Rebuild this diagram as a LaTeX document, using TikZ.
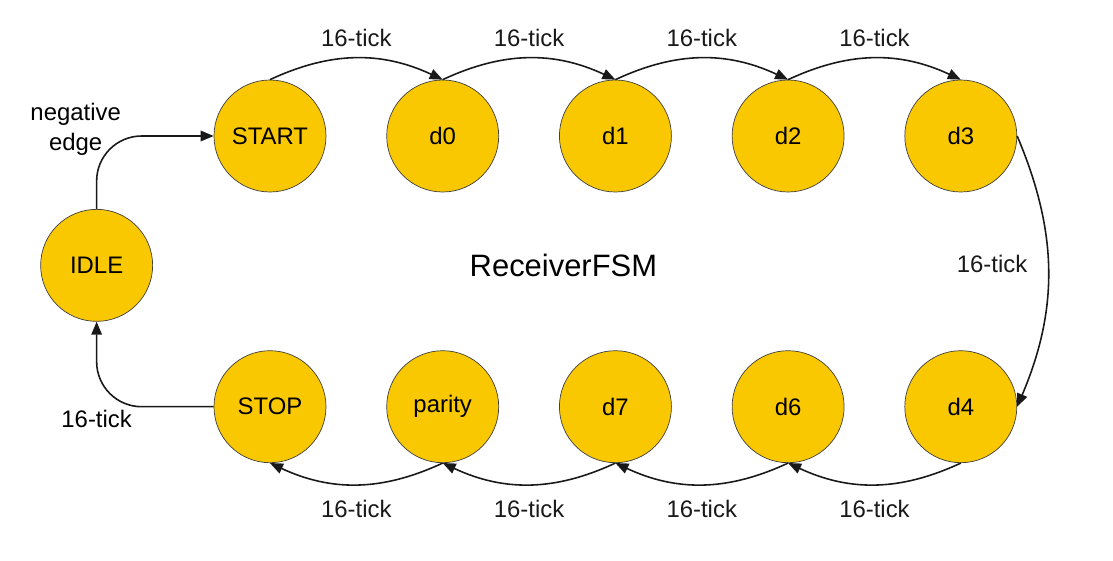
\documentclass[tikz,border=0pt]{standalone}
\usepackage{fontspec}
\setmainfont{Liberation Sans}
\usetikzlibrary{arrows.meta,positioning,calc}
\definecolor{stategold}{RGB}{249,200,0}

\begin{document}
\begin{tikzpicture}[
  node distance=1.2cm and 1.2cm,
  state/.style={draw=black!75,line width=0.4pt,circle,fill=stategold,minimum size=2.24cm,inner sep=0pt,font=\fontsize{13.6}{17}\selectfont},
  lbl/.style={font=\fontsize{13.6}{17}\selectfont,align=center},
  arr/.style={-{Triangle[length=2.6mm,width=2.1mm]},line width=0.9pt,black!90}
]
  \useasboundingbox (-5.4,2.72) rectangle (16.86,-8.48);
  \node[state] (start) {START};
  \node[state,right=of start] (d0) {d0};
  \node[state,right=of d0] (d1) {d1};
  \node[state,right=of d1] (d2) {d2};
  \node[state,right=of d2] (d3) {d3};
  \node[state,below=3.16cm of start] (stop) {STOP};
  \node[state,right=of stop] (par) {parity};
  \node[state,right=of par] (d7) {d7};
  \node[state,right=of d7] (d6) {d6};
  \node[state,right=of d6] (d4) {d4};
  \coordinate (mid) at ($(start)!0.5!(stop)+(0,0.12)$);
  \node[state,left=2.34cm of mid] (idle) {IDLE};
  \node[font=\fontsize{17.6}{20}\selectfont] (title) at ($(d1)!0.5!(d7)+(-1.04,0.12)$) {ReceiverFSM};
  \node[lbl] (neg) at ($(idle.north)+(-0.42,1.6)$) {negative\\edge};
  \node[lbl] (back) at ($(idle.south)+(0,-1.94)$) {16-tick};
  \draw[arr,rounded corners=0.9cm] (idle.north) |- (start.west);
  \draw[arr,rounded corners=0.9cm] (stop.west) -| (idle.south);
  \draw[arr] (start.north) to[bend left=25] node[lbl,above=3pt] {16-tick} (d0.north);
  \draw[arr] (d0.north) to[bend left=25] node[lbl,above=3pt] {16-tick} (d1.north);
  \draw[arr] (d1.north) to[bend left=25] node[lbl,above=3pt] {16-tick} (d2.north);
  \draw[arr] (d2.north) to[bend left=25] node[lbl,above=3pt] {16-tick} (d3.north);
  \draw[arr] (d3.east) to[bend left=23] node[lbl,left=8pt,pos=0.47] {16-tick} (d4.east);
  \draw[arr] (d4.south) to[bend left=25] node[lbl,below=5pt] {16-tick} (d6.south);
  \draw[arr] (d6.south) to[bend left=25] node[lbl,below=5pt] {16-tick} (d7.south);
  \draw[arr] (d7.south) to[bend left=25] node[lbl,below=5pt] {16-tick} (par.south);
  \draw[arr] (par.south) to[bend left=25] node[lbl,below=5pt] {16-tick} (stop.south);
\end{tikzpicture}
\end{document}
